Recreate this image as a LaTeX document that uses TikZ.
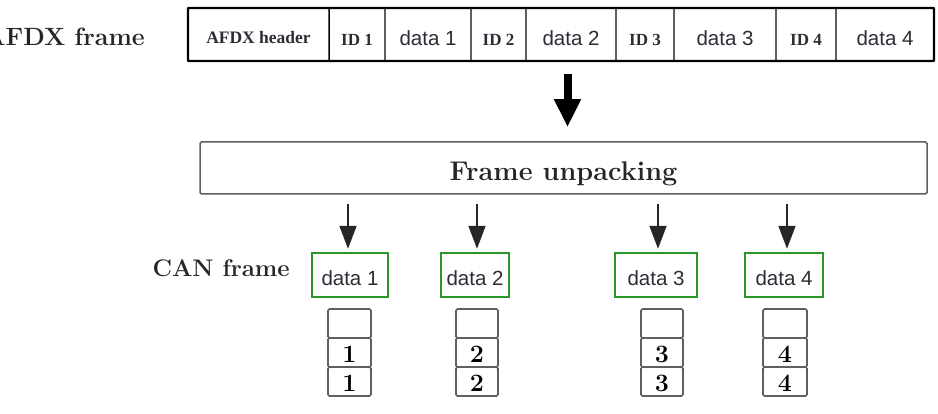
\documentclass[tikz,border=0pt]{standalone}
\usepackage{fontspec}
\newfontfamily\sansdata{Liberation Sans}
\newfontfamily\serifid{Liberation Serif}
\usetikzlibrary{arrows.meta}

\definecolor{canGreen}{RGB}{40,150,40}
\definecolor{edgeGray}{RGB}{95,95,95}
\definecolor{inkGray}{RGB}{45,45,55}

\tikzset{
  cell/.style={draw=edgeGray, line width=1.1pt, inner sep=0pt,
    minimum height=53pt, text height=22pt, text depth=0pt, text=inkGray},
  idtext/.style={font=\serifid\bfseries\fontsize{17}{17}\selectfont},
  datatext/.style={font=\sansdata\fontsize{20.5}{20.5}\selectfont},
  hdrtext/.style={font=\serifid\bfseries\fontsize{17.5}{17.5}\selectfont, text height=19pt},
  bigtitle/.style={font=\bfseries\fontsize{24}{24}\selectfont, inner sep=0pt, text=black!85},
  canbox/.style={draw=canGreen, line width=2.4pt, inner sep=0pt, minimum height=44pt,
    text height=22pt, text depth=0pt, text=inkGray,
    font=\sansdata\fontsize{20.5}{20.5}\selectfont},
  stackcell/.style={draw=edgeGray, line width=1.6pt, inner sep=0pt, rounded corners=1.5pt,
    minimum height=29pt, text height=20pt, text depth=0pt,
    font=\bfseries\fontsize{25}{25}\selectfont},
  thinarrow/.style={draw=black!85, line width=1.6pt,
    -{Triangle[width=17pt,length=23pt]}},
  bigarrow/.style={draw=black, line width=8pt,
    -{Triangle[width=25pt,length=28pt]}},
}

\begin{document}
\begin{tikzpicture}[x=1pt,y=-1pt]
  % canvas
  \fill[white] (0,0) rectangle (938,414);
  \useasboundingbox (0,0) rectangle (938,414);

  % AFDX frame: header, then ID / data pairs
  \node[cell, hdrtext, minimum width=141pt] (hdr) at (258.5,34.5) {AFDX header};
  \node[cell, idtext,   minimum width=56pt] (id1) at (357,34.5)   {ID 1};
  \node[cell, datatext, minimum width=86pt] (d1)  at (428,34.5)   {data 1};
  \node[cell, idtext,   minimum width=55pt] (id2) at (498.5,34.5) {ID 2};
  \node[cell, datatext, minimum width=90pt] (d2)  at (571,34.5)   {data 2};
  \node[cell, idtext,   minimum width=58pt] (id3) at (645,34.5)   {ID 3};
  \node[cell, datatext, minimum width=102pt] (d3) at (725,34.5)   {data 3};
  \node[cell, idtext,   minimum width=60pt] (id4) at (806,34.5)   {ID 4};
  \node[cell, datatext, minimum width=98pt] (d4)  at (885,34.5)   {data 4};
  % outer border of the frame and the heavier header divider
  \node[draw=black, line width=2.2pt, inner sep=0pt, rounded corners=1pt,
        minimum width=746pt, minimum height=53pt] (afdx) at (561,34.5) {};
  \draw[black, line width=1.8pt] (hdr.north east) -- (hdr.south east);

  \node[bigtitle, font=\bfseries\fontsize{25}{25}\selectfont, anchor=base east]
        (afdxlbl) at (145,46) {AFDX frame};

  % unpacking stage
  \node[draw=edgeGray, line width=1.5pt, rounded corners=1.5pt, inner sep=0pt,
        minimum width=727pt, minimum height=52pt] (unpack) at (563.5,168) {};
  \node[bigtitle, font=\bfseries\fontsize{27}{27}\selectfont, anchor=base]
        (unpacklbl) at (563.5,181) {Frame unpacking};

  \coordinate (ax) at (567.5,0);
  \draw[bigarrow, shorten <=12pt, shorten >=14pt] (afdx.south -| ax) -- (unpack.north -| ax);

  % CAN frames
  \node[bigtitle, anchor=base east] (canlbl) at (290,277) {CAN frame};
  \node[canbox, minimum width=76pt] (g1) at (350,275) {data 1};
  \node[canbox, minimum width=68pt] (g2) at (475,275) {data 2};
  \node[canbox, minimum width=82pt] (g3) at (656,275) {data 3};
  \node[canbox, minimum width=78pt] (g4) at (784,275) {data 4};

  \foreach \g/\x in {g1/348, g2/477, g3/658, g4/787}{
    \coordinate (t\g) at (\x,0);
    \draw[thinarrow, shorten <=9pt, shorten >=3pt] (unpack.south -| t\g) -- (\g.north -| t\g);
  }

  % buffer stacks below each CAN frame
  \foreach \n/\x/\w in {1/349.5/43, 2/477/42, 3/662/42, 4/785/44}{
    \node[stackcell, minimum width=\w pt] (s\n a) at (\x,323.5) {};
    \node[stackcell, minimum width=\w pt] (s\n b) at (\x,352.5) {\n};
    \node[stackcell, minimum width=\w pt] (s\n c) at (\x,381.5) {\n};
  }
\end{tikzpicture}
\end{document}
